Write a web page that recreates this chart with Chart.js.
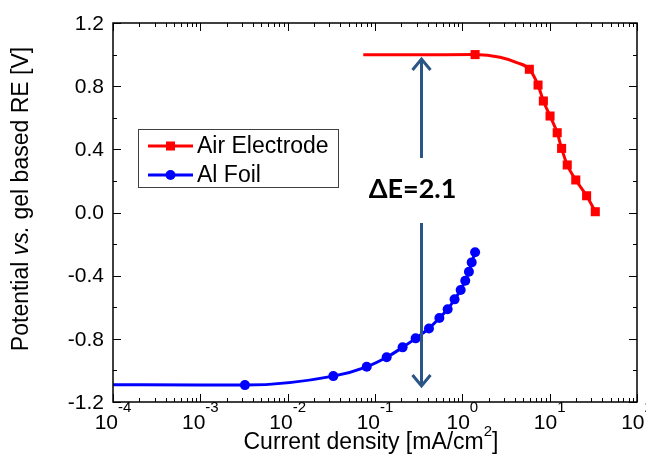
<!DOCTYPE html>
<html>
<head>
<meta charset="utf-8">
<script src="https://cdn.jsdelivr.net/npm/chart.js@4.4.0/dist/chart.umd.min.js"></script>
<style>
html, body { margin: 0; padding: 0; background: #fff; }
#wrap { width: 646px; height: 457px; }
</style>
</head>
<body>
<div id="wrap"><canvas id="chart" width="646" height="457"></canvas></div>
<script>
// Air electrode: fitted line and measured points (squares)
const airLineX = [0.0734, 0.3, 1.4, 2.7, 4.2, 5.85, 7.36, 8.47, 10.1, 12.2, 13.7, 15.9, 19.9, 26.5, 33.3];
const airLineY = [0.999, 0.999, 1.0, 0.983, 0.949, 0.907, 0.807, 0.706, 0.611, 0.505, 0.406, 0.301, 0.206, 0.106, 0.005];
const airPtsX = [1.4, 5.85, 7.36, 8.47, 10.1, 12.2, 13.7, 15.9, 19.9, 26.5, 33.3];
const airPtsY = [1.0, 0.907, 0.807, 0.706, 0.611, 0.505, 0.406, 0.301, 0.206, 0.106, 0.005];

// Al foil: fitted line and measured points (circles)
const alLineX = [1e-4, 1e-3, 0.00324, 0.0333, 0.0804, 0.136, 0.207, 0.292, 0.415, 0.546, 0.679, 0.815, 0.957, 1.08, 1.19, 1.28, 1.40];
const alLineY = [-1.09, -1.093, -1.093, -1.036, -0.977, -0.917, -0.854, -0.797, -0.734, -0.668, -0.613, -0.550, -0.491, -0.432, -0.375, -0.316, -0.252];
const alPtsX = [0.00324, 0.0333, 0.0804, 0.136, 0.207, 0.292, 0.415, 0.546, 0.679, 0.815, 0.957, 1.08, 1.19, 1.28, 1.40];
const alPtsY = [-1.093, -1.036, -0.977, -0.917, -0.854, -0.797, -0.734, -0.668, -0.613, -0.550, -0.491, -0.432, -0.375, -0.316, -0.252];

const seriesNames = ['Air Electrode', 'Al Foil'];
const yTicks = [-1.2, -0.8, -0.4, 0.0, 0.4, 0.8, 1.2];
const xDecades = [-4, -3, -2, -1, 0, 1, 2];

// delta E arrow (in data units)
const arrowX = 0.333;
const arrowTop = [0.345, 0.978];
const arrowBottom = [-0.067, -1.105];
const deltaLabel = 'ΔE=2.1';

const RED = 'rgb(255,0,0)';
const BLUE = 'rgb(0,0,255)';
const ARROW = '#2A5585';
const FONT = '"Liberation Sans", Arial';

const pts = (xs, ys) => xs.map((x, i) => ({ x: x, y: ys[i] }));

function drawMarker(ctx, style, x, y, color) {
    ctx.fillStyle = color;
    if (style === 'rect') {
        ctx.fillRect(x - 4.5, y - 4.5, 9, 9);
    } else {
        ctx.beginPath();
        ctx.arc(x, y, 5, 0, Math.PI * 2);
        ctx.fill();
    }
}

const framePlugin = {
    id: 'frame',
    afterDatasetsDraw(chart) {
        const ctx = chart.ctx;
        const a = chart.chartArea;
        const xs = chart.scales.x;
        const ys = chart.scales.y;
        ctx.save();

        // delta E arrow
        const ax = Math.round(xs.getPixelForValue(arrowX)) + 0.5;
        ctx.strokeStyle = ARROW;
        ctx.lineWidth = 3;
        ctx.lineCap = 'butt';
        const t0 = ys.getPixelForValue(arrowTop[0]), t1 = ys.getPixelForValue(arrowTop[1]);
        const b0 = ys.getPixelForValue(arrowBottom[0]), b1 = ys.getPixelForValue(arrowBottom[1]);
        ctx.beginPath();
        ctx.moveTo(ax, t0); ctx.lineTo(ax, t1 + 1);
        ctx.moveTo(ax, b0); ctx.lineTo(ax, b1 - 1);
        ctx.stroke();
        ctx.beginPath();
        ctx.moveTo(ax - 9, t1 + 12); ctx.lineTo(ax, t1 + 1); ctx.lineTo(ax + 9, t1 + 12);
        ctx.moveTo(ax - 9, b1 - 12); ctx.lineTo(ax, b1 - 1); ctx.lineTo(ax + 9, b1 - 12);
        ctx.stroke();

        ctx.fillStyle = '#000';
        ctx.font = 'bold 27px Lato';
        ctx.textAlign = 'center';
        ctx.textBaseline = 'middle';
        ctx.fillText(deltaLabel, ax - 9, ys.getPixelForValue(0.15));

        // frame
        ctx.strokeStyle = '#000';
        ctx.lineWidth = 1.5;
        ctx.strokeRect(a.left, a.top, a.right - a.left, a.bottom - a.top);

        // x ticks (inward, top and bottom)
        ctx.lineWidth = 1;
        ctx.beginPath();
        xDecades.forEach((e, i) => {
            const px = Math.round(xs.getPixelForValue(Math.pow(10, e))) + 0.5;
            ctx.moveTo(px, a.bottom); ctx.lineTo(px, a.bottom - 8);
            ctx.moveTo(px, a.top); ctx.lineTo(px, a.top + 8);
            if (i < xDecades.length - 1) {
                for (let m = 2; m <= 9; m++) {
                    const mx = Math.round(xs.getPixelForValue(m * Math.pow(10, e))) + 0.5;
                    ctx.moveTo(mx, a.bottom); ctx.lineTo(mx, a.bottom - 4);
                    ctx.moveTo(mx, a.top); ctx.lineTo(mx, a.top + 4);
                }
            }
        });
        // y ticks (inward, left and right)
        yTicks.forEach((v, i) => {
            const py = Math.round(ys.getPixelForValue(v)) + 0.5;
            ctx.moveTo(a.left, py); ctx.lineTo(a.left + 8, py);
            ctx.moveTo(a.right, py); ctx.lineTo(a.right - 8, py);
            if (i < yTicks.length - 1) {
                const my = Math.round(ys.getPixelForValue(v + 0.2)) + 0.5;
                ctx.moveTo(a.left, my); ctx.lineTo(a.left + 4, my);
                ctx.moveTo(a.right, my); ctx.lineTo(a.right - 4, my);
            }
        });
        ctx.stroke();

        // y tick labels
        ctx.fillStyle = '#000';
        ctx.font = '21px ' + FONT;
        ctx.textAlign = 'right';
        ctx.textBaseline = 'middle';
        yTicks.forEach(v => {
            ctx.fillText(v.toFixed(1), a.left - 9, ys.getPixelForValue(v) + 1);
        });

        // x tick labels: 10 with superscript exponent
        ctx.textAlign = 'left';
        xDecades.forEach(e => {
            const px = xs.getPixelForValue(Math.pow(10, e));
            ctx.font = '21px ' + FONT;
            const wb = ctx.measureText('10').width;
            ctx.font = '15px ' + FONT;
            const sup = e < 0 ? '-' + (-e) : String(e);
            const ws = ctx.measureText(sup).width;
            const x0 = px - (wb + ws) / 2;
            ctx.font = '21px ' + FONT;
            ctx.fillText('10', x0, 423);
            ctx.font = '15px ' + FONT;
            ctx.fillText(sup, x0 + wb, 408);
        });

        // x axis title
        const xt1 = 'Current density [mA/cm';
        ctx.font = '23px ' + FONT;
        const w1 = ctx.measureText(xt1).width;
        const wb2 = ctx.measureText(']').width;
        ctx.font = '15px ' + FONT;
        const w2 = ctx.measureText('2').width;
        const tx = 371 - (w1 + w2 + wb2) / 2;
        ctx.font = '23px ' + FONT;
        ctx.fillText(xt1, tx, 443);
        ctx.font = '15px ' + FONT;
        ctx.fillText('2', tx + w1, 432);
        ctx.font = '23px ' + FONT;
        ctx.fillText(']', tx + w1 + w2, 443);

        // y axis title (rotated, with italic "vs.")
        const parts = [['Potential ', ''], ['vs.', 'italic '], [' gel based RE [V]', '']];
        let total = 0;
        parts.forEach(p => { ctx.font = p[1] + '23px ' + FONT; total += ctx.measureText(p[0]).width; });
        ctx.save();
        ctx.translate(22, 199);
        ctx.rotate(-Math.PI / 2);
        let cx = -total / 2;
        parts.forEach(p => {
            ctx.font = p[1] + '23px ' + FONT;
            ctx.fillText(p[0], cx, 0);
            cx += ctx.measureText(p[0]).width;
        });
        ctx.restore();

        // legend box
        ctx.strokeStyle = '#404040';
        ctx.lineWidth = 1;
        ctx.strokeRect(138.5, 129.5, 200, 58);
        const legendRows = [[seriesNames[0], RED, 'rect', 146], [seriesNames[1], BLUE, 'circle', 175]];
        legendRows.forEach(r => {
            ctx.strokeStyle = r[1];
            ctx.lineWidth = 3;
            ctx.beginPath();
            ctx.moveTo(148, r[3]); ctx.lineTo(193, r[3]);
            ctx.stroke();
            drawMarker(ctx, r[2], 170.5, r[3], r[1]);
            ctx.fillStyle = '#000';
            ctx.font = '23px ' + FONT;
            ctx.textAlign = 'left';
            ctx.textBaseline = 'middle';
            ctx.fillText(r[0], 197, r[3] + 1);
        });

        ctx.restore();
    }
};

new Chart(document.getElementById('chart'), {
    type: 'scatter',
    data: {
        datasets: [
            {
                label: seriesNames[0] + ' line',
                data: pts(airLineX, airLineY),
                showLine: true,
                borderColor: RED,
                borderWidth: 3,
                pointRadius: 0,
                cubicInterpolationMode: 'monotone'
            },
            {
                label: seriesNames[0],
                data: pts(airPtsX, airPtsY),
                showLine: false,
                pointStyle: 'rect',
                pointRadius: 6.4,
                pointBorderWidth: 0,
                backgroundColor: RED,
                borderColor: RED
            },
            {
                label: seriesNames[1] + ' line',
                data: pts(alLineX, alLineY),
                showLine: true,
                borderColor: BLUE,
                borderWidth: 3,
                pointRadius: 0,
                cubicInterpolationMode: 'monotone'
            },
            {
                label: seriesNames[1],
                data: pts(alPtsX, alPtsY),
                showLine: false,
                pointStyle: 'circle',
                pointRadius: 5,
                pointBorderWidth: 0,
                backgroundColor: BLUE,
                borderColor: BLUE
            }
        ]
    },
    options: {
        responsive: false,
        animation: false,
        devicePixelRatio: 1,
        layout: { padding: { left: 113, right: 9, top: 23, bottom: 55 } },
        plugins: {
            legend: { display: false },
            tooltip: { enabled: false }
        },
        scales: {
            x: { type: 'logarithmic', min: 1e-4, max: 1e2, display: false },
            y: { type: 'linear', min: -1.2, max: 1.2, display: false }
        }
    },
    plugins: [framePlugin]
});
</script>
</body>
</html>
